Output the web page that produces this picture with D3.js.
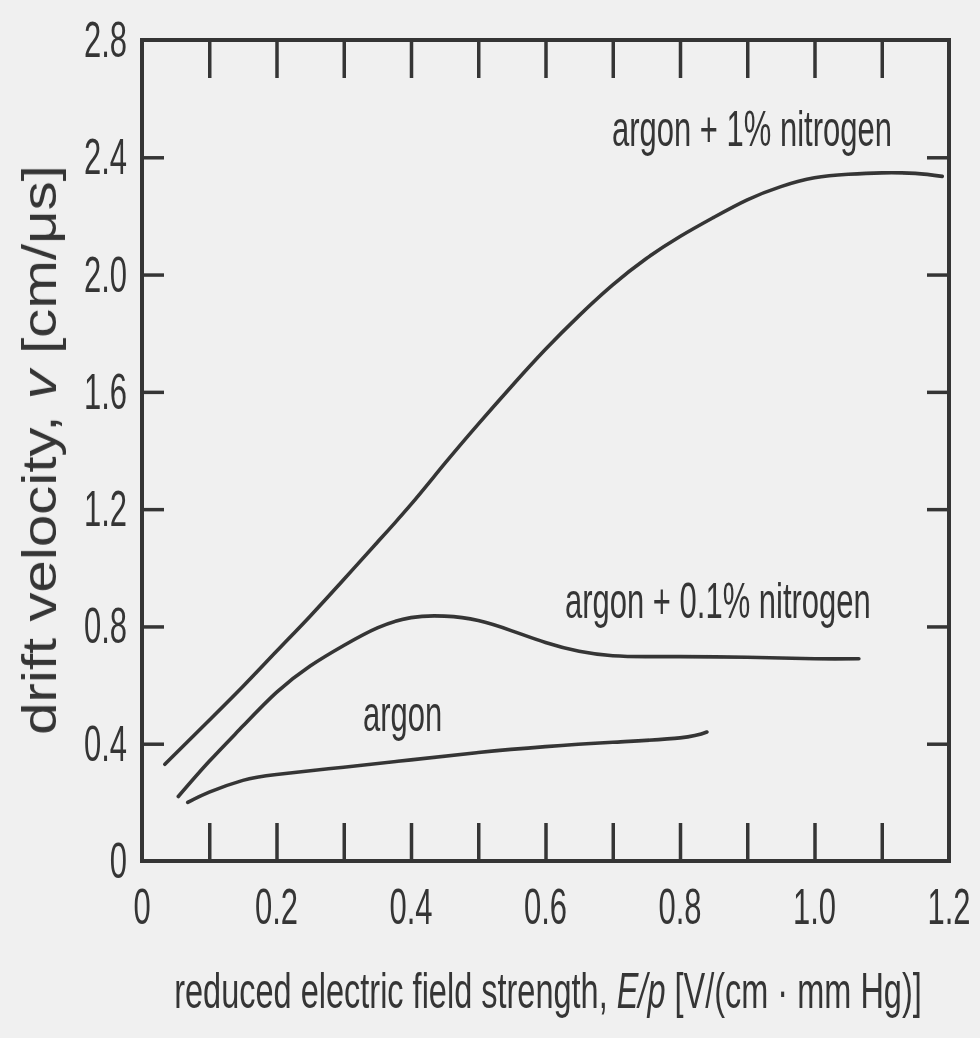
<!DOCTYPE html>
<html>
<head>
<meta charset="utf-8">
<script src="https://cdn.jsdelivr.net/npm/d3@7"></script>
<style>
  html, body { margin: 0; padding: 0; background: #f0f0f0; }
  svg { display: block; }
  text { font-family: "Liberation Sans", Arial, Helvetica, sans-serif; fill: #363636; }
</style>
</head>
<body>
<svg id="chart" width="980" height="1038"></svg>
<script>
// Drift velocity vs reduced field strength for argon and argon–nitrogen mixtures
const fieldArN1 = [0.034, 0.10, 0.15, 0.20, 0.25, 0.30, 0.35, 0.40, 0.45, 0.50, 0.55, 0.60, 0.65, 0.70, 0.75, 0.80, 0.85, 0.90, 0.95, 1.00, 1.05, 1.10, 1.15, 1.19];
const velArN1   = [0.33, 0.48, 0.595, 0.715, 0.835, 0.96, 1.087, 1.216, 1.355, 1.49, 1.62, 1.745, 1.86, 1.965, 2.055, 2.13, 2.195, 2.255, 2.30, 2.33, 2.342, 2.347, 2.345, 2.335];

const fieldArN01 = [0.054, 0.10, 0.15, 0.20, 0.25, 0.30, 0.35, 0.40, 0.45, 0.50, 0.55, 0.60, 0.65, 0.70, 0.75, 0.80, 0.90, 1.00, 1.066];
const velArN01   = [0.22, 0.34, 0.46, 0.575, 0.665, 0.735, 0.795, 0.83, 0.835, 0.82, 0.785, 0.745, 0.715, 0.70, 0.697, 0.697, 0.695, 0.69, 0.69];

const fieldAr = [0.068, 0.10, 0.15, 0.20, 0.30, 0.40, 0.50, 0.60, 0.70, 0.80, 0.84];
const velAr   = [0.20, 0.235, 0.275, 0.295, 0.32, 0.345, 0.37, 0.39, 0.405, 0.42, 0.44];

const xTickValues = [0, 0.2, 0.4, 0.6, 0.8, 1.0, 1.2];
const xTickLabels = ["0", "0.2", "0.4", "0.6", "0.8", "1.0", "1.2"];
const xMinorTicks = [0.1, 0.2, 0.3, 0.4, 0.5, 0.6, 0.7, 0.8, 0.9, 1.0, 1.1];
const yTickValues = [0, 0.4, 0.8, 1.2, 1.6, 2.0, 2.4, 2.8];
const yTickLabels = ["0", "0.4", "0.8", "1.2", "1.6", "2.0", "2.4", "2.8"];
const yInnerTicks = [0.4, 0.8, 1.2, 1.6, 2.0, 2.4];

const seriesNames = ["argon + 1% nitrogen", "argon + 0.1% nitrogen", "argon"];

const INK = "#363636";
const SX = 0.62;      // horizontal squeeze for the narrow typeface
const FS = 50;

const svg = d3.select("#chart");
const defs = svg.append("defs");
defs.append("filter").attr("id", "soft")
  .append("feGaussianBlur").attr("stdDeviation", 0.6);

const root = svg.append("g").attr("filter", "url(#soft)");

const x = d3.scaleLinear().domain([0, 1.2]).range([142, 949]);
const y = d3.scaleLinear().domain([0, 2.8]).range([861, 40]);

// frame
root.append("rect")
  .attr("x", x(0)).attr("y", y(2.8))
  .attr("width", x(1.2) - x(0)).attr("height", y(0) - y(2.8))
  .attr("fill", "none").attr("stroke", INK).attr("stroke-width", 4);

// inward ticks on all four sides
const tickLen = 38, sideTickLen = 22;
const axB = d3.axisBottom(x).tickValues(xMinorTicks).tickSize(-tickLen).tickSizeOuter(0).tickFormat("");
const axT = d3.axisTop(x).tickValues(xMinorTicks).tickSize(-tickLen).tickSizeOuter(0).tickFormat("");
const axL = d3.axisLeft(y).tickValues(yInnerTicks).tickSize(-sideTickLen).tickSizeOuter(0).tickFormat("");
const axR = d3.axisRight(y).tickValues(yInnerTicks).tickSize(-sideTickLen).tickSizeOuter(0).tickFormat("");

function styleAxis(g) {
  g.select(".domain").remove();
  g.selectAll(".tick line").attr("stroke", INK).attr("stroke-width", 3.5);
}
root.append("g").attr("transform", `translate(0,${y(0)})`).call(axB).call(styleAxis);
root.append("g").attr("transform", `translate(0,${y(2.8)})`).call(axT).call(styleAxis);
root.append("g").attr("transform", `translate(${x(0)},0)`).call(axL).call(styleAxis);
root.append("g").attr("transform", `translate(${x(1.2)},0)`).call(axR).call(styleAxis);

// squeezed text helper
function label(parent, px, py, str, anchor, opts = {}) {
  const t = parent.append("text")
    .attr("text-anchor", anchor)
    .attr("font-size", opts.fs ?? FS);
  if (str !== null) t.text(str);
  if (opts.fill) opts.fill(t);
  // either a fixed squeeze or one that fits the text to a given run length
  const sx = opts.len ? opts.len / t.node().getComputedTextLength() : (opts.sx ?? SX);
  t.attr("transform", `translate(${px},${py})` + (opts.rotate ? ` rotate(${opts.rotate})` : "") + ` scale(${sx},1)`);
  return t;
}

// tick labels
xTickValues.forEach((v, i) => label(root, x(v), 924, xTickLabels[i], "middle"));
yTickValues.forEach((v, i) => label(root, 127, y(v) + 17, yTickLabels[i], "end"));

// axis titles
label(root, 548, 1008, null, "middle", {
  sx: 0.65,
  fill: t => {
    t.append("tspan").text("reduced electric field strength, ");
    t.append("tspan").attr("font-style", "italic").text("E/p");
    t.append("tspan").text(" [V/(cm \u00b7 mm Hg)]");
  }
});

label(root, 56, 450, null, "middle", {
  rotate: -90, fs: 48, len: 570,
  fill: t => {
    t.append("tspan").text("drift velocity, ");
    t.append("tspan").attr("font-style", "italic").text("v");
    t.append("tspan").text(" [cm/\u03bcs]");
  }
});

// curves
const line = d3.line()
  .x(d => x(d[0])).y(d => y(d[1]))
  .curve(d3.curveNatural);

const series = [
  d3.zip(fieldArN1, velArN1),
  d3.zip(fieldArN01, velArN01),
  d3.zip(fieldAr, velAr)
];
root.append("g").selectAll("path").data(series).join("path")
  .attr("d", line)
  .attr("fill", "none")
  .attr("stroke", INK)
  .attr("stroke-width", 3.6)
  .attr("stroke-linecap", "round");

// curve labels
label(root, 612, 146, seriesNames[0], "start");
label(root, 565, 618, seriesNames[1], "start");
label(root, 363, 731, seriesNames[2], "start");
</script>
</body>
</html>
